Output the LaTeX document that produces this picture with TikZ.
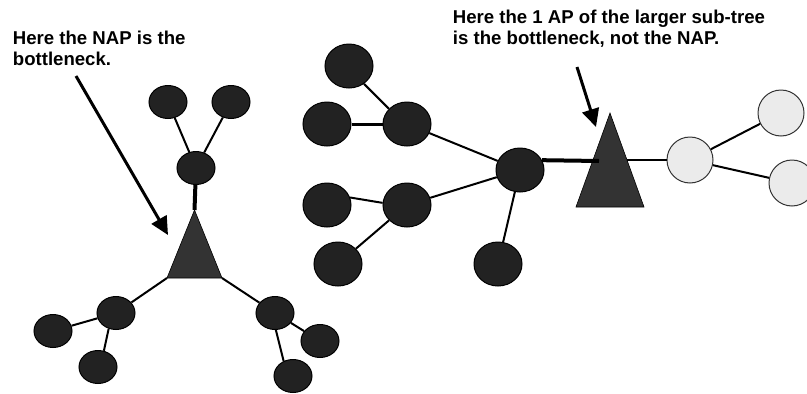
\documentclass[tikz,border=0pt]{standalone}
\usepackage{fontspec}
\setmainfont{Liberation Sans}
\usetikzlibrary{shapes.geometric,arrows.meta}

\definecolor{nodefill}{HTML}{222222}
\definecolor{apfill}{HTML}{333333}
\definecolor{lightfill}{HTML}{EBEBEB}
\definecolor{lightedge}{HTML}{333333}

\tikzset{
  smallnode/.style={ellipse, draw=black, line width=1pt, fill=nodefill,
    minimum width=38pt, minimum height=33pt, inner sep=0pt},
  bignode/.style={ellipse, draw=black, line width=1pt, fill=nodefill,
    minimum width=48pt, minimum height=44pt, inner sep=0pt},
  lightnode/.style={ellipse, draw=lightedge, line width=1pt, fill=lightfill,
    minimum width=46pt, minimum height=46pt, inner sep=0pt},
  link/.style={line width=2pt, black},
  thicklink/.style={line width=4pt, black},
  medlink/.style={line width=3pt, black},
  apshape/.style={fill=apfill, draw=black, line width=0.6pt},
  pointer/.style={line width=3pt, black, -{Triangle[length=18pt,width=17pt]}},
  caption/.style={anchor=base west, inner sep=0pt, align=left,
    font=\fontsize{18.6}{21}\selectfont\bfseries}
}

\begin{document}
\begin{tikzpicture}[x=1pt,y=-1pt]
  \useasboundingbox (0,0) rectangle (807,394);
  \clip (0,0) rectangle (807,394);

  % ---------- left tree: the NAP with three branches ----------
  \coordinate (napTop) at (194.5,210);
  \coordinate (napL) at (167,278);
  \coordinate (napR) at (222,278);
  \filldraw[apshape] (napTop) -- (napR) -- (napL) -- cycle;

  \node[smallnode] (a1) at (168,102) {};
  \node[smallnode] (a2) at (231,102) {};
  \node[smallnode] (a3) at (196,168) {};
  \node[smallnode] (a4) at (116,313) {};
  \node[smallnode] (a5) at (53,331) {};
  \node[smallnode] (a6) at (98,367) {};
  \node[smallnode] (a7) at (275,313) {};
  \node[smallnode] (a8) at (320,341) {};
  \node[smallnode] (a9) at (293,376) {};

  \draw[link] (a1) -- (a3);
  \draw[link] (a2) -- (a3);
  \draw[thicklink] (a3) -- (napTop);
  \draw[link] (napL) -- (a4);
  \draw[link] (napR) -- (a7);
  \draw[link] (a4) -- (a5);
  \draw[link] (a4.-115) -- (a6.70);
  \draw[link] (a7) -- (a8);
  \draw[link] (a7.-87) -- (a9.122);

  % ---------- right tree: one AP joining two sub-trees ----------
  \coordinate (apTop) at (610,113);
  \coordinate (apL) at (576,207);
  \coordinate (apR) at (644,207);
  \coordinate (apIn) at (599,161);
  \coordinate (apOut) at (627,160);
  \filldraw[apshape] (apTop) -- (apR) -- (apL) -- cycle;

  \node[bignode] (b1) at (349,66) {};
  \node[bignode] (b2) at (327,124) {};
  \node[bignode] (b3) at (407,124) {};
  \node[bignode] (b4) at (327,205) {};
  \node[bignode] (b5) at (407,205) {};
  \node[bignode] (b6) at (338,264) {};
  \node[bignode] (hub) at (520,170) {};
  \node[bignode] (b7) at (498,264) {};

  \node[lightnode] (c1) at (690,160) {};
  \node[lightnode] (c2) at (781,113) {};
  \node[lightnode] (c3) at (792,183) {};

  \draw[link] (b1.-50) -- (b3.140);
  \draw[medlink] (b2) -- (b3);
  \draw[link] (b4.18) -- (b5.175);
  \draw[link] (b6) -- (b5);
  \draw[link] (b3) -- (hub);
  \draw[link] (b5) -- (hub);
  \draw[link] (b7) -- (hub);
  \draw[thicklink] (hub.24) -- (apIn);
  \draw[link] (apOut) -- (c1);
  \draw[link] (c1) -- (c2);
  \draw[link] (c1) -- (c3);

  % ---------- captions and pointers ----------
  \node[caption] (capL) at (12.7,65) {Here the NAP is the\\bottleneck.};
  \node[caption] (capR) at (452.7,44) {Here the 1 AP of the larger sub-tree\\is the bottleneck, not the NAP.};

  \coordinate (ptrLfrom) at (76,76);
  \coordinate (ptrLto) at (168,235);
  \coordinate (ptrRfrom) at (577,67);
  \coordinate (ptrRto) at (596,127);
  \draw[pointer] (ptrLfrom) -- (ptrLto);
  \draw[pointer] (ptrRfrom) -- (ptrRto);
\end{tikzpicture}
\end{document}
